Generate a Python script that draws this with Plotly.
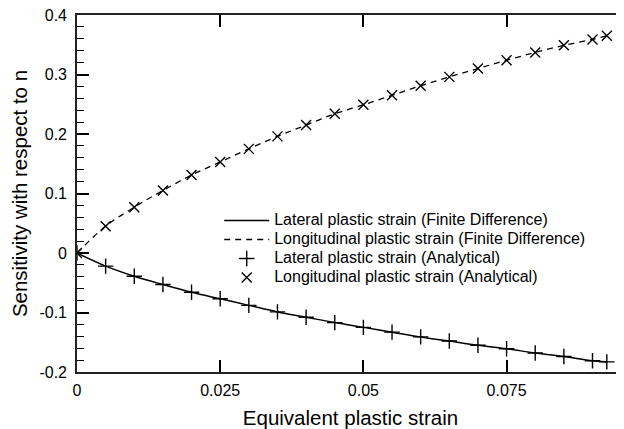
import plotly.graph_objects as go

strain = [0, 0.005, 0.01, 0.015, 0.02, 0.025, 0.03, 0.035, 0.04, 0.045, 0.05,
          0.055, 0.06, 0.065, 0.07, 0.075, 0.08, 0.085, 0.09, 0.0925]
lateral = [0, -0.022, -0.039, -0.053, -0.066, -0.077, -0.088, -0.099, -0.108, -0.117,
           -0.125, -0.133, -0.141, -0.148, -0.155, -0.161, -0.168, -0.174, -0.181, -0.183]
longitudinal = [0, 0.045, 0.077, 0.105, 0.131, 0.153, 0.175, 0.196, 0.215, 0.234,
                0.249, 0.265, 0.281, 0.296, 0.310, 0.324, 0.337, 0.349, 0.359, 0.365]

series_names = ["Lateral plastic strain (Finite Difference)",
                "Longitudinal plastic strain (Finite Difference)",
                "Lateral plastic strain (Analytical)",
                "Longitudinal plastic strain (Analytical)"]

x_ticks = [0, 0.025, 0.05, 0.075]
x_tick_labels = ["0", "0.025", "0.05", "0.075"]
y_ticks = [-0.2, -0.1, 0, 0.1, 0.2, 0.3, 0.4]
y_tick_labels = ["-0.2", "-0.1", "0", "0.1", "0.2", "0.3", "0.4"]

FONT = "Liberation Sans, Arial, Helvetica, sans-serif"


def legend_label(s):
    return '<span style="font-size:16px">' + s + '</span>'


fig = go.Figure()
fig.add_trace(go.Scatter(x=strain, y=lateral, mode="lines", line=dict(color="black", width=1.5, shape="spline"),
                         name=legend_label(series_names[0])))
fig.add_trace(go.Scatter(x=strain, y=longitudinal, mode="lines",
                         line=dict(color="black", width=1.3, dash="6px,5px", shape="spline"),
                         name=legend_label(series_names[1])))
fig.add_trace(go.Scatter(x=strain, y=lateral, mode="markers",
                         marker=dict(symbol="cross-thin-open", size=11, color="black", line=dict(width=1.4, color="black")),
                         name=legend_label(series_names[2])))
fig.add_trace(go.Scatter(x=strain, y=longitudinal, mode="markers",
                         marker=dict(symbol="x-thin-open", size=10, color="black", line=dict(width=1.4, color="black")),
                         name=legend_label(series_names[3])))

# the page body has an 8px default margin, so the figure is sized/offset to fill the window
fig.update_layout(
    width=616, height=421,
    margin=dict(l=69, r=0, t=7, b=57),
    paper_bgcolor="white", plot_bgcolor="white",
    font=dict(family=FONT, size=16, color="black"),
    showlegend=True,
    legend=dict(x=0.26, y=0.465, xanchor="left", yanchor="top", bgcolor="rgba(0,0,0,0)",
                font=dict(size=11.6, family=FONT), itemwidth=45, tracegroupgap=0),
    xaxis=dict(range=[0, 0.0955], tickvals=x_ticks, ticktext=x_tick_labels,
               ticks="inside", ticklen=12, tickwidth=1.5, tickcolor="black",
               showline=True, linecolor="#222", linewidth=1.6, mirror="ticks",
               showgrid=False, zeroline=False, automargin=False, ticklabelstandoff=3,
               ticklabeloverflow="allow",
               title=dict(text="Equivalent plastic strain", font=dict(size=20.5), standoff=13),
               tickfont=dict(size=16)),
    yaxis=dict(range=[-0.2, 0.4], tickvals=y_ticks, ticktext=y_tick_labels,
               ticks="inside", ticklen=12, tickwidth=1.5, tickcolor="black",
               showline=True, linecolor="#222", linewidth=1.6,
               showgrid=False, zeroline=False, automargin=False, ticklabelstandoff=5,
               ticklabeloverflow="allow",
               minor=dict(dtick=0.02, tick0=0, ticks="inside", ticklen=7, tickwidth=1.2, tickcolor="black", showgrid=False),
               title=dict(text="Sensitivity with respect to n", font=dict(size=20.5), standoff=16),
               tickfont=dict(size=16)),
)

fig.write_html("out.html")
